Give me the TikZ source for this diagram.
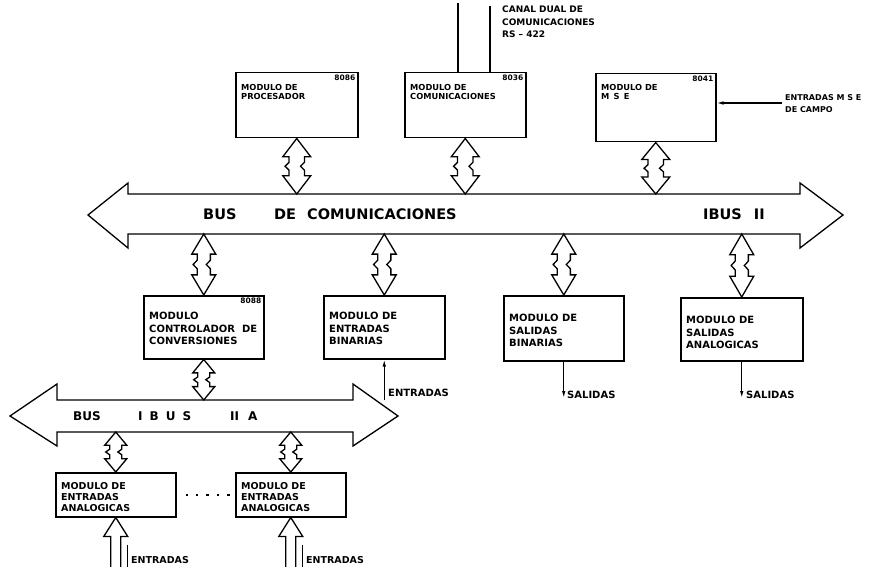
\documentclass[tikz,border=0pt]{standalone}
\usepackage{fontspec}
\setmainfont{DejaVu Sans}
\usetikzlibrary{calc,arrows.meta}
\newcommand\hdbl[3][12]{%
  \pgfmathsetmacro\hdW{#1}\pgfmathsetmacro\hdS{#1*0.55}%
  \pgfmathsetmacro\hdR{#1*0.55-4}\pgfmathsetmacro\hdL{#1*0.55+4}%
  \draw[hollow] (#2)
    -- ([xshift=\hdW pt]$(#2)!.33!(#3)$) -- ([xshift=\hdS pt]$(#2)!.33!(#3)$)
    -- ([xshift=\hdS pt]$(#2)!.43!(#3)$) -- ([xshift=\hdR pt]$(#2)!.5!(#3)$)
    -- ([xshift=\hdS pt]$(#2)!.57!(#3)$) -- ([xshift=\hdS pt]$(#2)!.67!(#3)$)
    -- ([xshift=\hdW pt]$(#2)!.67!(#3)$) -- (#3)
    -- ([xshift=-\hdW pt]$(#2)!.67!(#3)$) -- ([xshift=-\hdS pt]$(#2)!.67!(#3)$)
    -- ([xshift=-\hdS pt]$(#2)!.57!(#3)$) -- ([xshift=-\hdL pt]$(#2)!.5!(#3)$)
    -- ([xshift=-\hdS pt]$(#2)!.43!(#3)$) -- ([xshift=-\hdS pt]$(#2)!.33!(#3)$)
    -- ([xshift=-\hdW pt]$(#2)!.33!(#3)$) -- cycle;}
\newcommand\hsgl[2]{%
  \draw[hollow] ([xshift=-5pt]#2) -- ([xshift=-5pt]$(#1)+(0,19)$)
    -- ([xshift=-12pt]$(#1)+(0,19)$) -- (#1) -- ([xshift=12pt]$(#1)+(0,19)$)
    -- ([xshift=5pt]$(#1)+(0,19)$) -- ([xshift=5pt]#2);
  \draw[line width=1.2pt] ([xshift=12pt]$(#1)+(0,27)$) -- ([xshift=12pt]#2);}
\begin{document}
\begin{tikzpicture}[x=1pt,y=-1pt,
  box/.style={draw, line width=1.5pt, inner sep=0pt, anchor=north west},
  hollow/.style={draw, line width=1.3pt, line join=miter, fill=white},
  btxt/.style={font=\bfseries\fontsize{10}{12.5}\selectfont, align=left, anchor=north west, inner sep=0pt},
  ttxt/.style={font=\bfseries\fontsize{8.3}{9.5}\selectfont, align=left, anchor=north west, inner sep=0pt},
  num/.style={font=\bfseries\fontsize{7.5}{8}\selectfont, anchor=north east, inner sep=0pt},
  lbl/.style={font=\bfseries\fontsize{10}{11}\selectfont, anchor=west, inner sep=0pt},
  side/.style={font=\bfseries\fontsize{9}{12.5}\selectfont, align=left, anchor=north west, inner sep=0pt},
  bustxt/.style={font=\bfseries\fontsize{14.5}{16}\selectfont, anchor=west, inner sep=0pt},
  bus2txt/.style={font=\bfseries\fontsize{12}{14}\selectfont, anchor=west, inner sep=0pt},
  sig/.style={line width=1.2pt, -{Latex[length=7pt,width=3.5pt]}},
  plain/.style={line width=1.2pt}]
\useasboundingbox[fill=white] (0,0) rectangle (886,567);

% ---------- top modules
\node[box, minimum width=122pt, minimum height=65pt] (proc) at (235,72) {};
\node[box, minimum width=121pt, minimum height=65pt] (com) at (404,72) {};
\node[box, minimum width=120pt, minimum height=68pt] (mse) at (595,73) {};
\node[ttxt] (proct) at ($(proc.north west)+(6,12)$) {MODULO DE\\PROCESADOR};
\node[ttxt] (comt) at ($(com.north west)+(6,12)$) {MODULO DE\\COMUNICACIONES};
\node[ttxt] (mset) at ($(mse.north west)+(6,11)$) {MODULO DE\\M\, S\, E};
\node[num] (procn) at ($(proc.north east)+(-3,3)$) {8086};
\node[num] (comn) at ($(com.north east)+(-3,3)$) {8036};
\node[num] (msen) at ($(mse.north east)+(-3,3)$) {8041};

% communication channel
\coordinate (cl1) at (458,3);
\coordinate (cl2) at (490,6);
\draw[plain] (cl1) -- (com.north -| cl1);
\draw[plain] (cl2) -- (com.north -| cl2);
\node[side] (canal) at (502,6) {CANAL DUAL DE\\COMUNICACIONES\\RS -- 422};

% MSE inputs
\coordinate (msein) at (782,103);
\draw[sig] (msein) -- (mse.east |- msein);
\node[side, font=\bfseries\fontsize{8}{12}\selectfont] (msel) at (785,94) {ENTRADAS M S E\\DE CAMPO};

% ---------- main bus
\draw[hollow] (88,215) -- (128,183) -- (128,194) -- (800,194) -- (800,183) -- (843,215)
  -- (800,248) -- (800,234) -- (128,234) -- (128,248) -- cycle;
\coordinate (bt) at (0,194);
\coordinate (bb) at (0,234);
\node[bustxt] (b1) at (203,214) {BUS};
\node[bustxt] (b2) at (274,214) {DE};
\node[bustxt] (b3) at (307,214) {COMUNICACIONES};
\node[bustxt] (b4) at (703,214) {IBUS\hspace{12pt}II};

\coordinate (p1) at (proc.south |- bt);
\coordinate (p2) at (com.south |- bt);
\coordinate (p3) at (mse.south |- bt);
\hdbl[14]{proc.south}{p1}
\hdbl[14]{com.south}{p2}
\hdbl[14]{mse.south}{p3}

% ---------- lower modules
\node[box, minimum width=120pt, minimum height=63pt] (ctl) at (143,295) {};
\node[box, minimum width=121pt, minimum height=63pt] (ebin) at (323,295) {};
\node[box, minimum width=120pt, minimum height=65pt] (sbin) at (503,295) {};
\node[box, minimum width=122pt, minimum height=63pt] (sana) at (680,297) {};
\node[btxt] (ctlt) at ($(ctl.north west)+(6,17)$) {MODULO\\\makebox[108pt][l]{CONTROLADOR\hfill DE}\\CONVERSIONES};
\node[btxt] (ebint) at ($(ebin.north west)+(6,17)$) {MODULO DE\\ENTRADAS\\BINARIAS};
\node[btxt] (sbint) at ($(sbin.north west)+(6,19)$) {MODULO DE\\SALIDAS\\BINARIAS};
\node[btxt] (sanat) at ($(sana.north west)+(6,19)$) {MODULO DE\\SALIDAS\\ANALOGICAS};
\node[num] (ctln) at ($(ctl.north east)+(-3,3)$) {8088};

\coordinate (q1) at (ctl.north |- bb);
\coordinate (q2) at (ebin.north |- bb);
\coordinate (q3) at (sbin.north |- bb);
\coordinate (q4) at (sana.north |- bb);
\hdbl[12]{q1}{ctl.north}
\hdbl[12]{q2}{ebin.north}
\hdbl[12]{q3}{sbin.north}
\hdbl[12]{q4}{sana.north}

% inputs / outputs
\coordinate (ebinin) at (ebin.south |- 0,400);
\draw[sig] (ebinin) -- (ebin.south);
\node[lbl] (ebinl) at (388,393) {ENTRADAS};
\coordinate (sbinout) at (sbin.south |- 0,398);
\draw[sig] (sbin.south) -- (sbinout);
\node[lbl] (sbinl) at (567,395) {SALIDAS};
\coordinate (sanaout) at (sana.south |- 0,398);
\draw[sig] (sana.south) -- (sanaout);
\node[lbl] (sanal) at (746,395) {SALIDAS};

% ---------- bus IIA
\draw[hollow] (10,416) -- (57,384) -- (57,400) -- (353,400) -- (353,384) -- (398,416)
  -- (353,446) -- (353,432) -- (57,432) -- (57,446) -- cycle;
\coordinate (bt2) at (0,400);
\coordinate (bb2) at (0,432);
\node[bus2txt] (c1) at (73,416) {BUS};
\node[bus2txt] (c2) at (138,416) {I\hspace{7pt}B\hspace{7pt}U\hspace{7pt}S};
\node[bus2txt] (c3) at (230,416) {II\hspace{9pt}A};

\coordinate (r1) at (ctl.south |- bt2);
\hdbl[11]{ctl.south}{r1}

% ---------- analog input modules
\node[box, minimum width=120pt, minimum height=44pt] (aeb1) at (55,472) {};
\node[box, minimum width=110pt, minimum height=44pt] (aeb2) at (235,472) {};
\node[btxt, font=\bfseries\fontsize{9.5}{11}\selectfont] (aeb1t) at ($(aeb1.north west)+(6,10)$) {MODULO DE\\ENTRADAS\\ANALOGICAS};
\node[btxt, font=\bfseries\fontsize{9.5}{11}\selectfont] (aeb2t) at ($(aeb2.north west)+(6,10)$) {MODULO DE\\ENTRADAS\\ANALOGICAS};
\draw[line width=2.4pt, dash pattern=on 2.4pt off 8pt] ($(aeb1.east)+(9,0)$) -- ($(aeb2.west)+(-2,0)$);

\coordinate (s1) at (aeb1.north |- bb2);
\coordinate (s2) at (aeb2.north |- bb2);
\hdbl[11]{s1}{aeb1.north}
\hdbl[11]{s2}{aeb2.north}

\coordinate (e1) at (aeb1.south |- 0,568);
\coordinate (e2) at (aeb2.south |- 0,568);
\hsgl{aeb1.south}{e1}
\hsgl{aeb2.south}{e2}
\node[lbl, font=\bfseries\fontsize{9.5}{11}\selectfont] (e1l) at (131,560) {ENTRADAS};
\node[lbl, font=\bfseries\fontsize{9.5}{11}\selectfont] (e2l) at (306,560) {ENTRADAS};
\end{tikzpicture}
\end{document}
